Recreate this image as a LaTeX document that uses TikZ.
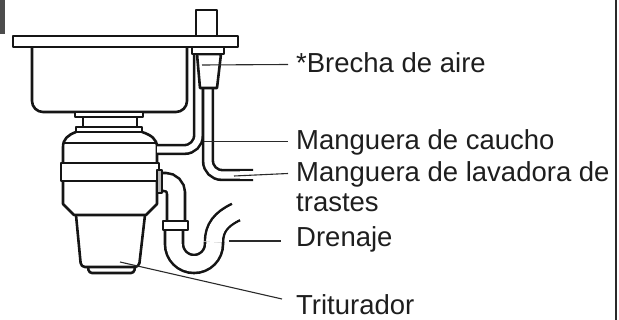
\documentclass[tikz,border=0pt]{standalone}
\usepackage{fontspec}
\setmainfont{Liberation Sans}
\newcommand{\labfont}{\fontsize{27.5}{30}\selectfont}
\definecolor{ink}{HTML}{151515}
\definecolor{txt}{HTML}{1E1E1E}
\definecolor{lead}{HTML}{2A2A2A}
\begin{document}
\begin{tikzpicture}[x=1pt,y=-1pt,
  ol/.style={draw=ink,line width=2.6pt,line join=round},
  hose/.style={draw=ink,line width=2.6pt,double=white},
  pipe/.style={draw=ink,line width=2.6pt,double=white,double distance=15.4pt},
  opencore/.style={draw=white,shorten >=-3pt},
  leader/.style={draw=lead,line width=1.1pt},
  lab/.style={anchor=base west,inner sep=0pt,text=txt,font=\labfont}]
\useasboundingbox (0,0) rectangle (619,320);

% sink basin
\draw[ol,rounded corners=11] (32,47) -- (32,112) -- (187,112) -- (187,47);

% sink flange, neck and mounting ring
\draw[ol,fill=white] (75,112) rectangle (143,117);
\draw[ol] (83,117) -- (83,127) (137,117) -- (137,127);
\draw[ol,fill=white] (76,127) rectangle (142,132);

% disposer: upper housing
\draw[ol] (76,132) .. controls (68,135) and (63,139) .. (63,147) -- (63,163);
\draw[ol] (142,132) .. controls (151,135) and (157,139) .. (157,147) -- (157,163);
\draw[ol] (64,143) -- (156,143);
% clamp band
\draw[ol,fill=white] (61,163) rectangle (159,181);
% middle housing
\draw[ol] (63,181) -- (63,204) -- (74,215) -- (146,215) -- (157,204) -- (157,181);
% lower housing and base
\draw[ol,rounded corners=4] (76,215) -- (81,267) -- (139,267) -- (145,215);
\draw[ol,rounded corners=3] (88,267) -- (89,273) -- (134,273) -- (135,267);

% rubber hose from the air gap into the disposer
\draw[hose,double distance=6.1pt,rounded corners=14] (198.5,50) -- (198.5,149.5) -- (157,149.5);
% dishwasher hose, open at its free end
\draw[hose,double distance=7.2pt,rounded corners=14] (208,86) -- (208,175) -- (253,175);
\draw[opencore,line width=7.2pt] (240,175) -- (253,175);

% air gap body, collar, countertop and cap
\draw[ol,fill=white] (197,54) -- (200,88) -- (217,88) -- (221,54) -- cycle;
\draw[ol,fill=white] (192,47) rectangle (224,54);
\draw[ol,fill=white] (196,10) rectangle (217,36);
\draw[ol,fill=white] (13,36) rectangle (238,47);

% discharge elbow and trap, open at the drain end
\draw[pipe,rounded corners=11] (158,182) -- (176,182) -- (176,223);
\draw[pipe,rounded corners=20] (174,229) -- (174,264) -- (214,264) -- (214,242);
\draw[pipe] (214,242) .. controls (214,228) and (221,219) .. (236,212);
\draw[opencore,line width=15.4pt] (214,242) .. controls (214,228) and (221,219) .. (236,212);
\draw[ol,fill=white] (163,221) rectangle (188,230);
\draw[ol,fill=gray!55] (157,170) rectangle (162,193);

% labels
\node[lab] (lBre) at (296,73) {*Brecha de aire};
\node[lab] (lCau) at (296,150) {Manguera de caucho};
\node[lab] (lLav) at (296,182) {Manguera de lavadora de};
\node[lab] (lLav2) at (296,212) {trastes};
\node[lab] (lDre) at (296,247) {Drenaje};
\node[lab] (lTri) at (296,315) {Triturador};

% leader lines
\coordinate (aBre) at (202,65);
\coordinate (aCau) at (204,141.5);
\coordinate (aLav) at (234,176);
\coordinate (aDre) at (229,241);
\coordinate (aTri) at (120,262);
\draw[leader] (aBre) -- ([xshift=-8pt,yshift=8.5pt]lBre.base west);
\draw[leader] (aCau) -- ([xshift=-8pt,yshift=8.5pt]lCau.base west);
\draw[leader] (aLav) -- ([xshift=-8pt,yshift=8.5pt]lLav.base west);
\draw[leader] (aDre) -- ([xshift=-15pt,yshift=6pt]lDre.base west);
\draw[leader] (aTri) -- ([xshift=-14pt,yshift=16pt]lTri.base west);

% frame edge and corner tab
\fill[black!70] (0,0) rectangle (5,34);
\draw[draw=lead,line width=2pt] (616,0) -- (616,320);
\end{tikzpicture}
\end{document}
